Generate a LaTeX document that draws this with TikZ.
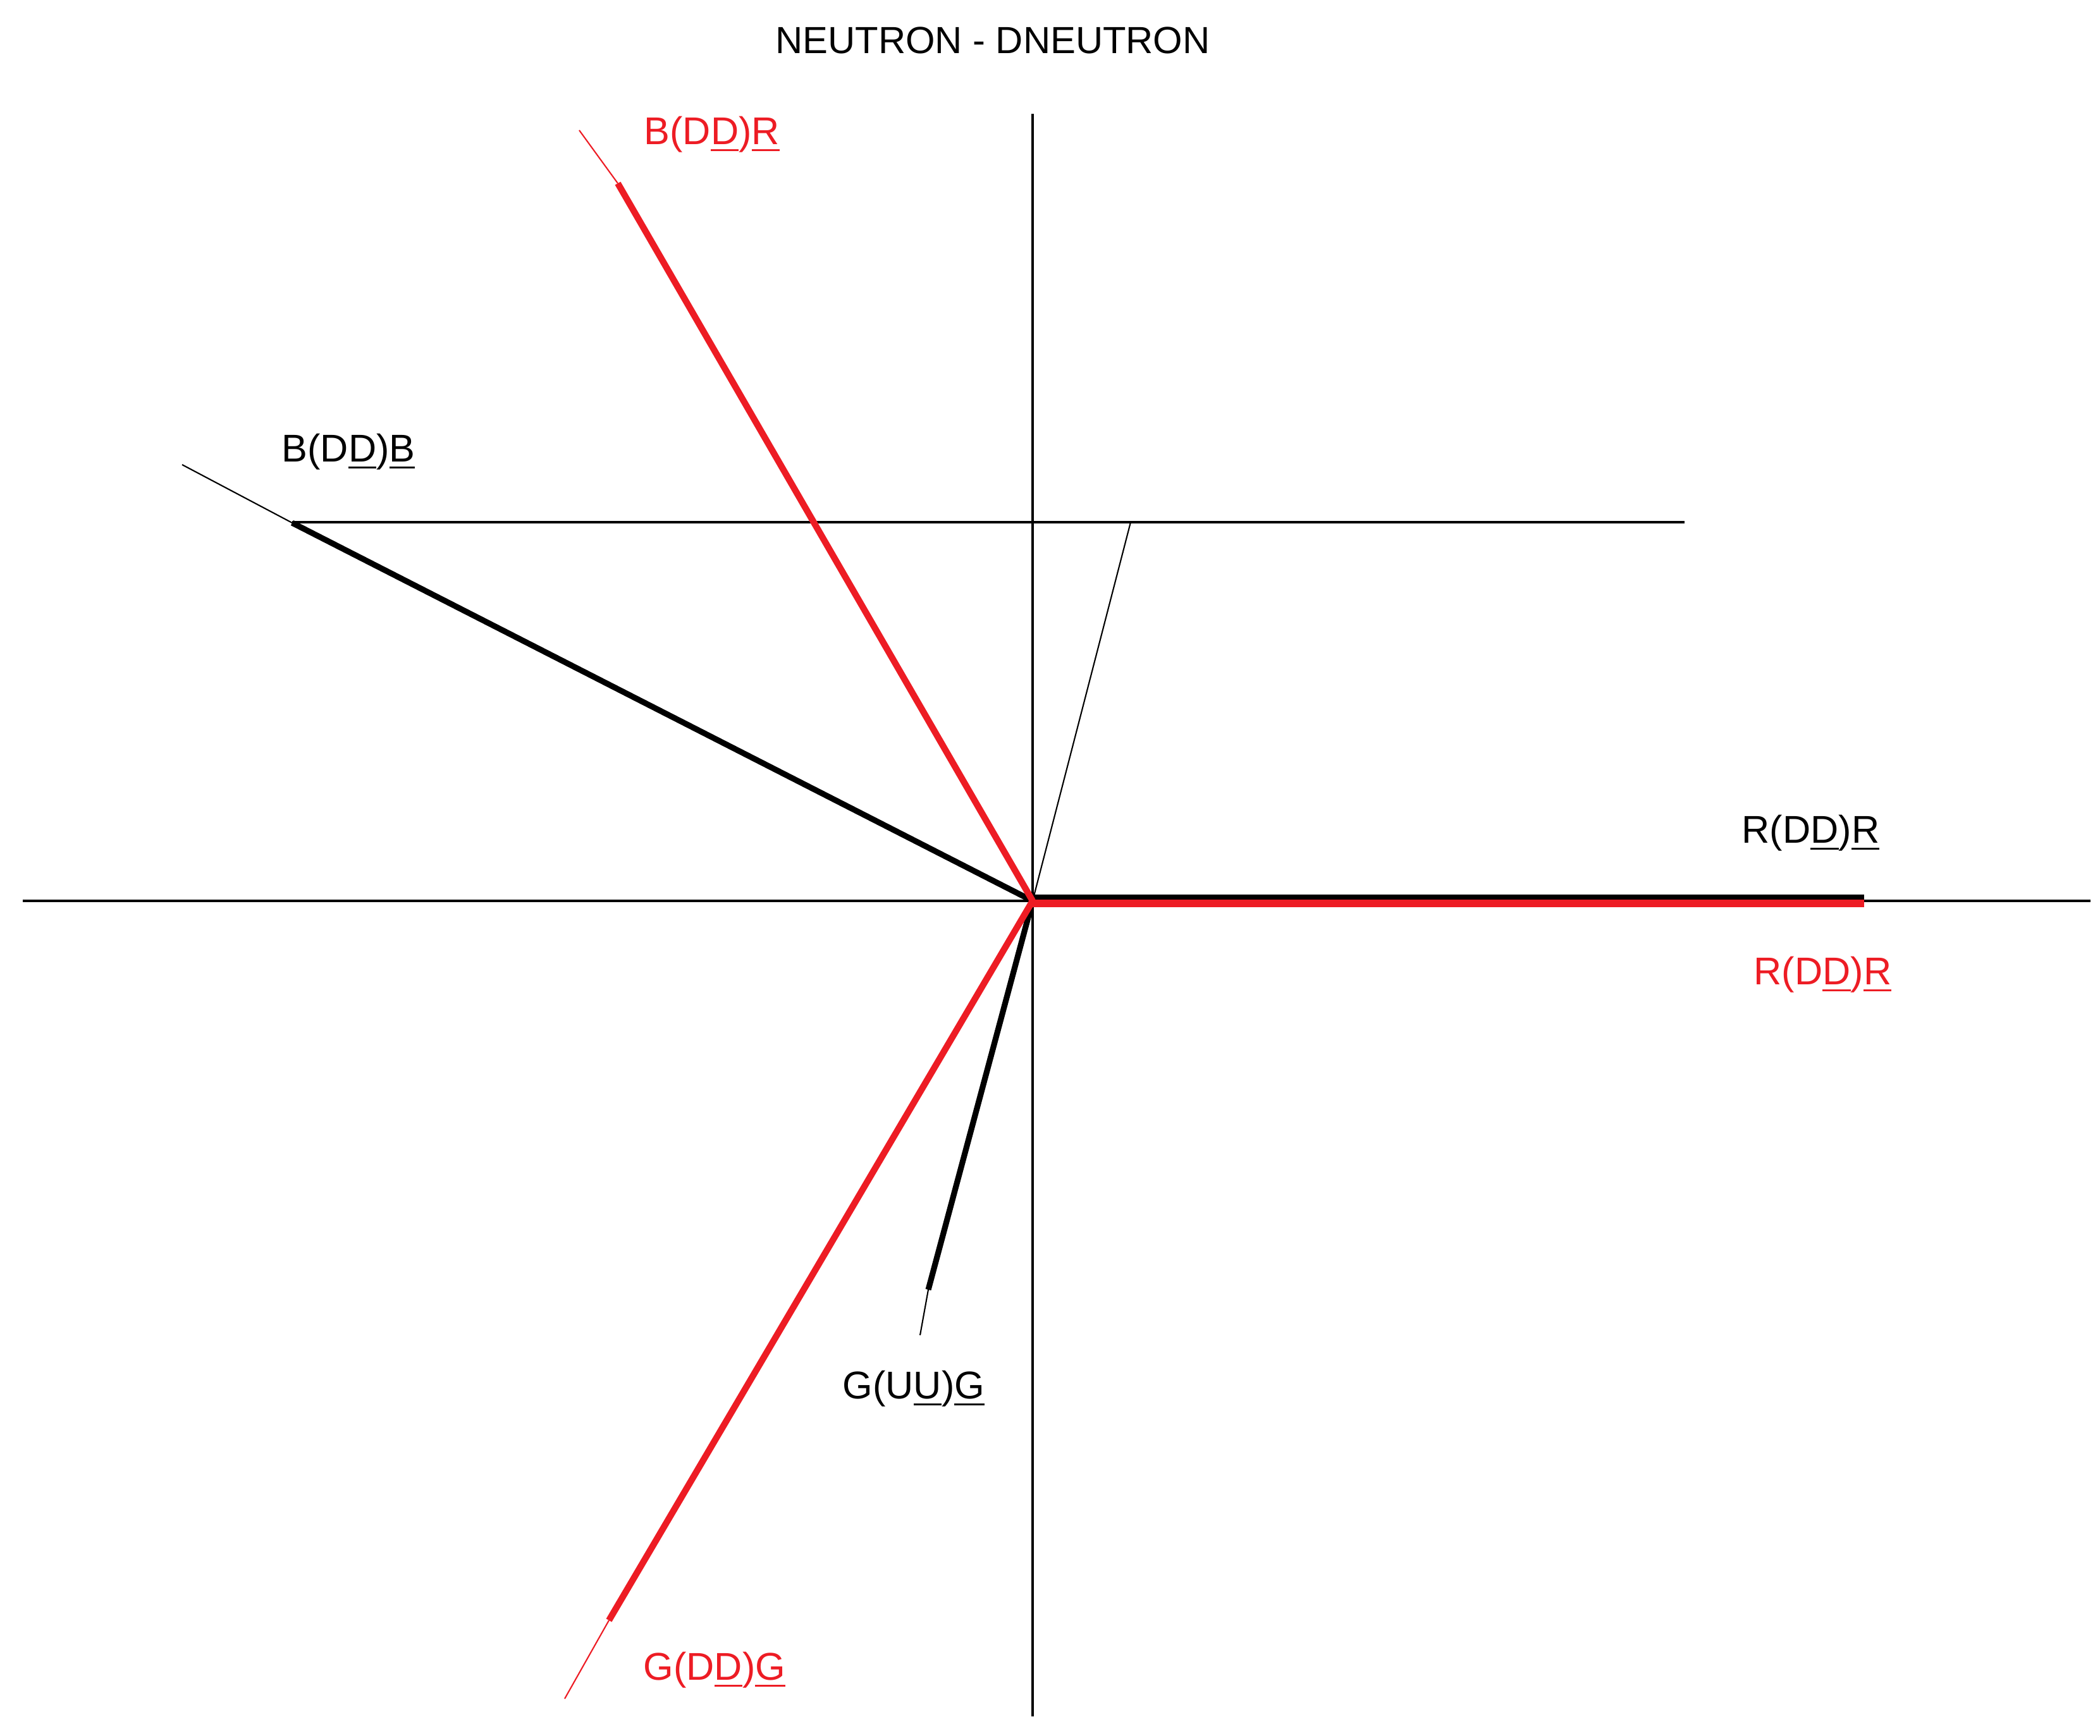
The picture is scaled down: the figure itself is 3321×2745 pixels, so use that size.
\documentclass[tikz,border=0pt]{standalone}
\usepackage{fontspec}
\setmainfont{Liberation Sans}
\definecolor{rd}{RGB}{237,28,36}
\newcommand\myul[1]{\setbox0\hbox{#1}\rlap{\rule[-3.1pt]{\wd0}{0.9pt}}\box0}
\begin{document}
\begin{tikzpicture}[x=0.01cm,y=-0.01cm,
  axisline/.style={line width=1pt,black},
  thinblack/.style={line width=0.6pt,black},
  thickblack/.style={line width=2.6pt,black},
  thinred/.style={line width=0.6pt,rd},
  thickred/.style={line width=2.9pt,rd},
  thickredh/.style={line width=3.2pt,rd},
  lbl/.style={anchor=base west,inner sep=0pt,font=\fontsize{17.4}{20}\selectfont},
  lblred/.style={lbl,text=rd}]
\useasboundingbox (0,0) rectangle (3321,2745);
% coordinates
\coordinate (O) at (1633,1425);
\coordinate (xl) at (36,1425);
\coordinate (xr) at (3306,1425);
\coordinate (yt) at (1633,180);
\coordinate (yb) at (1633,2715);
\coordinate (hl) at (462,826);
\coordinate (hr) at (2664,826);
\coordinate (tp) at (1788,826);
\coordinate (bdr1) at (977,290);
\coordinate (bdr2) at (916,206);
\coordinate (bdb1) at (462,827);
\coordinate (bdb2) at (288,735);
\coordinate (gdg1) at (963,2563);
\coordinate (gdg2) at (893,2687);
\coordinate (guu1) at (1468,2040);
\coordinate (guu2) at (1455,2112);
\coordinate (Ob) at (1633,1419);
\coordinate (rb) at (2948,1419);
\coordinate (Or) at (1633,1429);
\coordinate (rr) at (2948,1429);
% axes and guide lines
\draw[axisline] (xl) -- (xr);
\draw[axisline] (yt) -- (yb);
\draw[axisline] (hl) -- (hr);
\draw[thinblack] (O) -- (tp);
% black vectors
\draw[thickblack] (O) -- (bdb1);
\draw[thinblack] (bdb1) -- (bdb2);
\draw[thickblack] (O) -- (guu1);
\draw[thinblack] (guu1) -- (guu2);
\draw[thickblack,line width=2.2pt] (Ob) -- (rb);
% red vectors
\draw[thickred] (O) -- (bdr1);
\draw[thinred] (bdr1) -- (bdr2);
\draw[thickred] (O) -- (gdg1);
\draw[thinred] (gdg1) -- (gdg2);
\draw[thickredh] (Or) -- (rr);
% labels
\node[lbl,anchor=base,font=\fontsize{17}{20}\selectfont] (title) at (1570,84) {NEUTRON - DNEUTRON};
\node[lblred] (lbdr) at (1018,228) {B(D\myul{D})\myul{R}};
\node[lbl] (lbdb) at (445,730) {B(D\myul{D})\myul{B}};
\node[lbl] (lrdr) at (2754,1333) {R(D\myul{D})\myul{R}};
\node[lblred] (lrdrr) at (2773,1557) {R(D\myul{D})\myul{R}};
\node[lbl] (lguu) at (1332,2212) {G(U\myul{U})\myul{G}};
\node[lblred] (lgdg) at (1017,2657) {G(D\myul{D})\myul{G}};
\end{tikzpicture}
\end{document}
